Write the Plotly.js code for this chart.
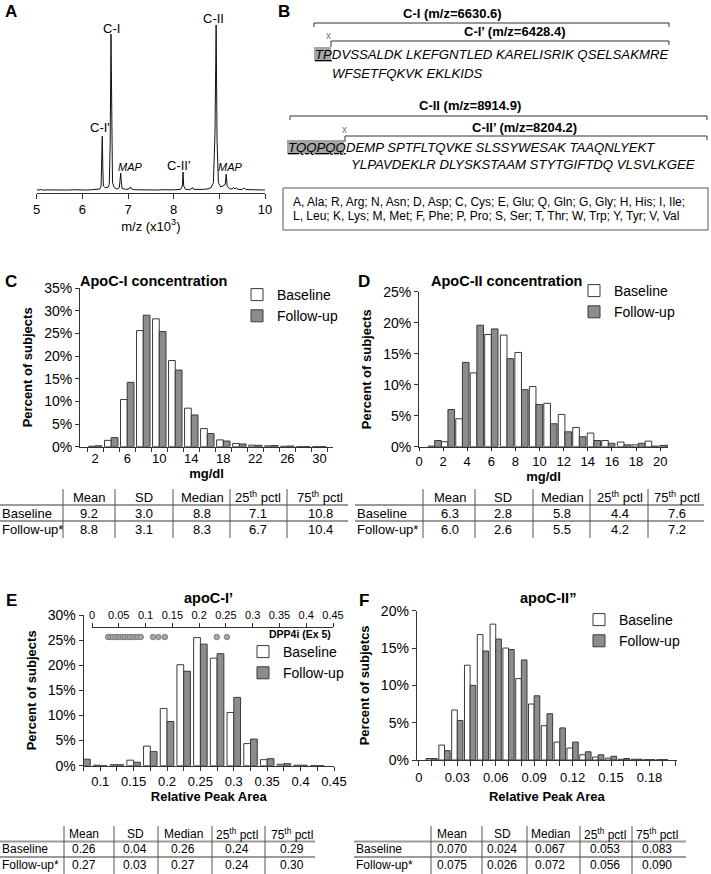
<!DOCTYPE html>
<html><head><meta charset="utf-8">
<script src="https://cdn.plot.ly/plotly-3.0.1.min.js"></script>
<style>html,body{margin:0;padding:0;background:#fff}#chart{width:711px;height:874px}</style>
</head><body><div id="chart"></div>
<script>
// ---------- Panel A: mass spectrum (m/z x10^3 vs relative intensity) ----------
const specMz = [5.00,5.05,5.10,5.15,5.20,5.30,5.40,5.50,5.60,5.70,5.80,5.90,6.00,6.10,6.20,6.30,6.38,6.41,6.425,6.436,6.447,6.46,6.50,6.56,6.59,6.61,6.627,6.64,6.66,6.70,6.76,6.81,6.828,6.84,6.852,6.87,6.95,7.02,7.05,7.08,7.15,7.25,7.35,7.45,7.55,7.65,7.75,7.85,7.95,8.05,8.15,8.19,8.205,8.22,8.26,8.35,8.40,8.42,8.44,8.55,8.65,8.75,8.82,8.87,8.905,8.93,8.95,8.98,9.03,9.08,9.13,9.15,9.17,9.22,9.28,9.31,9.34,9.38,9.41,9.50,9.55,9.58,9.65,9.75,9.85,9.95,10.00];
const specInt = [0.8,0.6,0.9,0.5,0.7,0.6,0.8,0.5,0.7,0.6,0.8,0.6,0.7,0.6,0.8,0.9,1.2,3,16,33,15,3,2.0,2.2,4,30,94.6,35,5,2.0,1.2,2,7,10.8,6,1.5,1.0,1.2,2.5,1.2,0.8,0.7,0.8,0.6,0.7,0.6,0.8,0.6,0.7,0.8,1.0,3,11.4,3,1.0,0.8,1.5,2,1.0,0.9,1.0,1.3,2,5,35,100,30,5,2.5,3,4,10.2,3,1.5,1.2,2.2,1.2,1.8,1.0,1.0,1.8,0.9,0.8,0.7,0.6,0.7,0.6];
const peakNames = ["C-I'", "C-I", "MAP", "C-II'", "C-II", "MAP"];

// ---------- Panel C: ApoC-I concentration (mg/dl) ----------
const binsC = [2,4,6,8,10,12,14,16,18,20,22,24,26,28,30];
const baseC = [0.1,1.4,10.4,25.6,28.2,19.0,8.5,4.0,1.5,0.7,0.35,0.2,0.1,0.05,0.05];
const fupC  = [0.2,2.0,14.2,29.0,25.4,16.9,7.0,2.9,1.25,0.6,0.3,0.25,0.15,0.05,0.05];

// ---------- Panel D: ApoC-II concentration (mg/dl) ----------
const binsD = [1.3,2.4,3.6,4.8,6.0,7.3,8.5,9.7,10.9,12.1,13.3,14.5,15.7,17.0,18.2,19.3,20.5];
const baseD = [0.1,0.8,4.5,11.9,18.1,18.0,15.2,9.7,7.0,5.2,3.1,2.2,1.0,0.75,0.3,0.9,0.2];
const fupD  = [1.0,6.0,13.6,19.6,19.0,14.2,9.2,6.8,3.7,2.4,1.6,1.0,0.55,0.3,0.55,0.1,0.25];

// ---------- Panel E: apoC-I' relative peak area ----------
const binsE = [0.075,0.1,0.125,0.15,0.175,0.2,0.225,0.25,0.275,0.3,0.325,0.35,0.375,0.4,0.425];
const baseE = [0,0.1,0.2,1.1,3.9,11.4,20.1,25.5,21.4,10.6,4.4,1.2,0.3,0.1,0.05];
const fupE  = [1.3,0,0.2,0.7,2.8,8.8,18.8,24.2,22.3,13.6,5.3,1.4,0.4,0.1,0.03];
const dpp4iX = [0.030,0.035,0.039,0.044,0.049,0.053,0.058,0.062,0.067,0.071,0.076,0.081,0.086,0.091,0.114,0.124,0.136,0.233,0.252];

// ---------- Panel F: apoC-II'' relative peak area ----------
const binsF = [0.01,0.02,0.03,0.04,0.05,0.06,0.07,0.08,0.09,0.10,0.11,0.12,0.13,0.14,0.15,0.16,0.17,0.18,0.19];
const baseF = [0.2,2.0,6.7,12.7,16.8,18.2,15.0,10.9,7.5,4.6,2.4,1.6,0.7,0.4,0.25,0.1,0.1,0.05,0.05];
const fupF  = [0.2,1.25,5.3,10.0,14.6,16.2,14.8,13.4,8.6,6.2,4.3,2.4,1.1,0.7,0.5,0.2,0.1,0.05,0.05];

// ---------- Summary tables ----------
const statCols  = ['Mean','SD','Median','25<sup>th</sup> pctl','75<sup>th</sup> pctl'];
const rowLabels = ['Baseline','Follow-up*'];
const statsCBase = ['9.2','3.0','8.8','7.1','10.8'];
const statsCFup  = ['8.8','3.1','8.3','6.7','10.4'];
const statsDBase = ['6.3','2.8','5.8','4.4','7.6'];
const statsDFup  = ['6.0','2.6','5.5','4.2','7.2'];
const statsEBase = ['0.26','0.04','0.26','0.24','0.29'];
const statsEFup  = ['0.27','0.03','0.27','0.24','0.30'];
const statsFBase = ['0.070','0.024','0.067','0.053','0.083'];
const statsFFup  = ['0.075','0.026','0.072','0.056','0.090'];

// ---------- Panel B text ----------
const seqCI  = ['<u>TP</u>DVSSALDK LKEFGNTLED KARELISRIK QSELSAKMRE', 'WFSETFQKVK EKLKIDS'];
const seqCII = ['<u>TQQPQQ</u>DEMP SPTFLTQVKE SLSSYWESAK TAAQNLYEKT', 'YLPAVDEKLR DLYSKSTAAM STYTGIFTDQ VLSVLKGEE'];
const aaKey = ['A, Ala; R, Arg; N, Asn; D, Asp; C, Cys; E, Glu; Q, Gln; G, Gly; H, His; I, Ile;',
               'L, Leu; K, Lys; M, Met; F, Phe; P, Pro; S, Ser; T, Thr; W, Trp; Y, Tyr; V, Val'];

// ================= layout helpers =================
const W = 711, H = 874;
const FONT = "'Liberation Sans', Arial, Helvetica, sans-serif";
const X = p => p / W;
const Y = p => 1 - p / H;
const dom = (a, b) => [X(a), X(b)];
const vdom = (top, bottom) => [Y(bottom), Y(top)];

const annotations = [];
const shapes = [];
function ann(text, x, y, o = {}) {
  annotations.push(Object.assign({text, x: X(x), y: Y(y), xref: 'paper', yref: 'paper',
    showarrow: false, xanchor: 'center', yanchor: 'middle',
    font: {family: FONT, size: 13, color: '#000'}}, o));
}
function line(x0, y0, x1, y1, color = '#333', width = 1) {
  shapes.push({type: 'line', xref: 'paper', yref: 'paper', x0: X(x0), y0: Y(y0), x1: X(x1), y1: Y(y1),
    line: {color, width}});
}
function rect(x0, y0, x1, y1, fill, lc, lw) {
  shapes.push({type: 'rect', xref: 'paper', yref: 'paper', x0: X(x0), y0: Y(y0), x1: X(x1), y1: Y(y1),
    fillcolor: fill, line: {color: lc || 'rgba(0,0,0,0)', width: lw || 0}, layer: 'below'});
}

const AX = '#333';
function axisBase(extra) {
  return Object.assign({showgrid: false, zeroline: false, showline: true, linecolor: AX, linewidth: 1,
    ticks: 'outside', tickcolor: AX, ticklen: 4, tickfont: {family: FONT, size: 13, color: '#000'},
    fixedrange: true}, extra);
}
function yPct(domain, range, anchor, title, standoff) {
  return axisBase({domain, range, anchor, dtick: 5, ticksuffix: '%', tickfont: {family: FONT, size: 14, color: '#000'},
    title: {text: '<b>' + title + '</b>', font: {family: FONT, size: 13, color: '#000'}, standoff}});
}

// ================= traces =================
const traces = [];
traces.push({type: 'scatter', mode: 'lines', x: specMz, y: specInt, xaxis: 'x', yaxis: 'y',
  line: {color: '#111', width: 1}, showlegend: false, hoverinfo: 'skip'});

function pair(x, b, f, xa, ya, w, leg) {
  const common = {type: 'bar', x, xaxis: xa, yaxis: ya, width: w, legend: leg, hoverinfo: 'skip'};
  traces.push(Object.assign({}, common, {y: b, name: 'Baseline', offset: -w,
    marker: {color: '#ffffff', line: {color: '#3a3a3a', width: 1}}}));
  traces.push(Object.assign({}, common, {y: f, name: 'Follow-up', offset: 0,
    marker: {color: '#8c8c8c', line: {color: '#3a3a3a', width: 1}}}));
}
pair(binsC, baseC, fupC, 'x2', 'y2', 0.84, 'legend');
pair(binsD, baseD, fupD, 'x3', 'y3', 0.55, 'legend2');
pair(binsE, baseE, fupE, 'x4', 'y4', 0.0101, 'legend3');
pair(binsF, baseF, fupF, 'x6', 'y6', 0.0044, 'legend4');

traces.push({type: 'scatter', mode: 'markers', x: dpp4iX, y: dpp4iX.map(() => 0), xaxis: 'x5', yaxis: 'y5',
  marker: {size: 5.5, color: '#a6a6a6', line: {color: '#808080', width: 1}}, showlegend: false, hoverinfo: 'skip'});

// ================= axes =================
const layout = {
  width: W, height: H, margin: {l: 0, r: 0, t: 0, b: 0}, paper_bgcolor: '#fff', plot_bgcolor: 'rgba(0,0,0,0)',
  barmode: 'overlay', font: {family: FONT, color: '#000'}, showlegend: true,
  // A
  xaxis: axisBase({domain: dom(36.7, 265), range: [5, 10], dtick: 1, anchor: 'y', ticklen: 5,
    title: {text: 'm/z (x10<sup>3</sup>)', font: {family: FONT, size: 13}, standoff: 4}}),
  yaxis: {domain: vdom(25, 192.7), range: [-1, 100], visible: false, fixedrange: true},
  // C
  xaxis2: axisBase({domain: dom(80, 333), range: [0.1, 31.7], anchor: 'y2', ticks: '', tick0: 2, dtick: 4,
    minor: {ticks: 'outside', tick0: 1, dtick: 2, ticklen: 4, tickcolor: AX},
    title: {text: '<b>mg/dl</b>', font: {family: FONT, size: 13}, standoff: 0}}),
  yaxis2: yPct(vdom(288, 446.7), [0, 35], 'x2', 'Percent of subjects', 8),
  // D
  xaxis3: axisBase({domain: dom(419, 668), range: [0, 20.65], anchor: 'y3', ticks: 'outside', ticklen: 3, tick0: 0, dtick: 2,
    title: {text: '<b>mg/dl</b>', font: {family: FONT, size: 13}, standoff: 0}}),
  yaxis3: yPct(vdom(291.7, 446.7), [0, 25], 'x3', 'Percent of subjects', 8),
  // E
  xaxis4: axisBase({domain: dom(83.5, 334), range: [0.075, 0.45], anchor: 'y4', tick0: 0, dtick: 0.05,
    minor: {ticks: 'outside', tick0: 0, dtick: 0.025, ticklen: 4, tickcolor: AX},
    title: {text: '<b>Relative Peak Area</b>', font: {family: FONT, size: 13}, standoff: 1}}),
  yaxis4: yPct(vdom(615, 765.7), [0, 30], 'x4', 'Percent of subjects', 8),
  xaxis5: axisBase({domain: dom(92, 333), range: [0, 0.45], anchor: 'free', position: Y(627), side: 'top',
    tick0: 0, dtick: 0.05, ticklen: 4, tickfont: {family: FONT, size: 11, color: '#000'}}),
  yaxis5: {domain: vdom(632, 642), range: [-1, 1], visible: false, fixedrange: true, anchor: 'x5'},
  // F
  xaxis6: axisBase({domain: dom(416.7, 677), range: [-0.0017, 0.2015], anchor: 'y6', tick0: 0, dtick: 0.03, ticklen: 5,
    minor: {ticks: 'outside', tick0: 0, dtick: 0.01, ticklen: 5, tickcolor: AX},
    title: {text: '<b>Relative Peak Area</b>', font: {family: FONT, size: 13}, standoff: 8}}),
  yaxis6: yPct(vdom(610.7, 760), [0, 20], 'x6', 'Percent of subjetcs', 8),
};

const legBase = {bgcolor: 'rgba(0,0,0,0)', font: {family: FONT, size: 14, color: '#000'}, xanchor: 'left', yanchor: 'top',
  traceorder: 'normal', itemwidth: 30, tracegroupgap: 0};
layout.legend  = Object.assign({}, legBase, {x: X(237), y: Y(279)});
layout.legend2 = Object.assign({}, legBase, {x: X(574), y: Y(275)});
layout.legend3 = Object.assign({}, legBase, {x: X(243), y: Y(636)});
layout.legend4 = Object.assign({}, legBase, {x: X(579), y: Y(604)});

// ================= annotations =================
// panel letters
[['A', 11, 11], ['B', 284, 11], ['C', 11, 281], ['D', 364, 281], ['E', 11, 600], ['F', 364, 600]].forEach(
  ([t, x, y]) => ann('<b>' + t + '</b>', x, y, {font: {family: FONT, size: 17, color: '#000'}}));

// panel A peak labels
const peakLabelPos = [[100, 128], [111, 28], [130, 167], [178, 165], [213, 18], [231, 167]];
peakNames.forEach((t, i) => {
  const it = t === 'MAP';
  ann(it ? '<i>' + t + '</i>' : t, peakLabelPos[i][0], peakLabelPos[i][1],
    {font: {family: FONT, size: it ? 11 : 13, color: '#000'}});
});

// panel titles
ann('<b>ApoC-I concentration</b>', 153, 281, {font: {family: FONT, size: 14.5}});
ann('<b>ApoC-II concentration</b>', 506, 281, {font: {family: FONT, size: 14.5}});
ann('<b>apoC-I’</b>', 208, 598, {font: {family: FONT, size: 14.5}});
ann('<b>apoC-II”</b>', 548, 598, {font: {family: FONT, size: 14.5}});
ann('<b>DPP4i (Ex 5)</b>', 333, 634, {xanchor: 'right', font: {family: FONT, size: 10.5}});

// panel B
const SEQ = 13.2;
ann('<b>C-I (m/z=6630.6)</b>', 452, 13);
line(314, 23, 669, 23); line(314, 23, 314, 27); line(669, 23, 669, 27);
ann('<b>C-I’ (m/z=6428.4)</b>', 515, 32);
line(331, 41, 669, 41); line(331, 41, 331, 47); line(669, 41, 669, 45);
ann('x', 328, 36, {font: {family: FONT, size: 10, color: '#777'}});
rect(314, 47, 331, 61, '#a6a6a6');
ann('<i>' + seqCI[0] + '</i>', 313, 54, {xanchor: 'left', font: {family: FONT, size: SEQ}});
ann('<i>' + seqCI[1] + '</i>', 330, 73, {xanchor: 'left', font: {family: FONT, size: SEQ}});

ann('<b>C-II (m/z=8914.9)</b>', 470, 106);
line(290, 116, 707, 116); line(290, 116, 290, 120); line(707, 116, 707, 120);
ann('<b>C-II’ (m/z=8204.2)</b>', 524, 128);
line(345, 136, 707, 136); line(345, 136, 345, 142); line(707, 136, 707, 140);
ann('x', 344, 129, {font: {family: FONT, size: 10, color: '#777'}});
rect(287, 140, 344, 154, '#a6a6a6');
ann('<i>' + seqCII[0] + '</i>', 286, 147, {xanchor: 'left', font: {family: FONT, size: SEQ}});
ann('<i>' + seqCII[1] + '</i>', 349, 164, {xanchor: 'left', font: {family: FONT, size: SEQ}});

rect(283, 188, 708, 230, 'rgba(0,0,0,0)', '#555', 1);
ann(aaKey[0], 291, 202, {xanchor: 'left', font: {family: FONT, size: 12}});
ann(aaKey[1], 291, 216, {xanchor: 'left', font: {family: FONT, size: 12}});

// tables
function table(cfg) {
  const {left, right, centers, seps, rows, fs, base, fup} = cfg;
  statCols.forEach((c, i) => ann(c, centers[i], rows[0], {font: {family: FONT, size: fs}}));
  [base, fup].forEach((vals, r) => {
    ann(rowLabels[r], left, rows[r + 1], {xanchor: 'left', font: {family: FONT, size: fs}});
    vals.forEach((v, i) => ann(v, centers[i], rows[r + 1], {font: {family: FONT, size: fs}}));
  });
  const hl1 = (rows[0] + rows[1]) / 2, hl2 = (rows[1] + rows[2]) / 2;
  line(left, hl1, right, hl1, '#9a9a9a', 2);
  line(left, hl2, right, hl2, '#9a9a9a', 2);
  seps.forEach(s => line(s, rows[0] - 8, s, rows[2] + 9, '#555', 1));
}
table({left: 0, right: 348, centers: [89, 144, 202, 258, 320], seps: [63, 115, 173, 230, 287],
  rows: [497, 513, 529], fs: 13, base: statsCBase, fup: statsCFup});
table({left: 355, right: 704, centers: [450, 503, 562, 620, 677], seps: [423, 475, 533, 590, 648],
  rows: [497, 513, 529], fs: 13, base: statsDBase, fup: statsDFup});
table({left: 0, right: 315, centers: [84, 135, 183, 237, 292], seps: [64, 114, 158, 212, 265],
  rows: [834, 849, 865], fs: 12, base: statsEBase, fup: statsEFup});
table({left: 354, right: 686, centers: [452, 502, 550, 605, 657], seps: [431, 482, 527, 580, 632],
  rows: [834, 849, 865], fs: 12, base: statsFBase, fup: statsFFup});

layout.annotations = annotations;
layout.shapes = shapes;

Plotly.newPlot('chart', traces, layout, {staticPlot: true, displayModeBar: false});
</script></body></html>
